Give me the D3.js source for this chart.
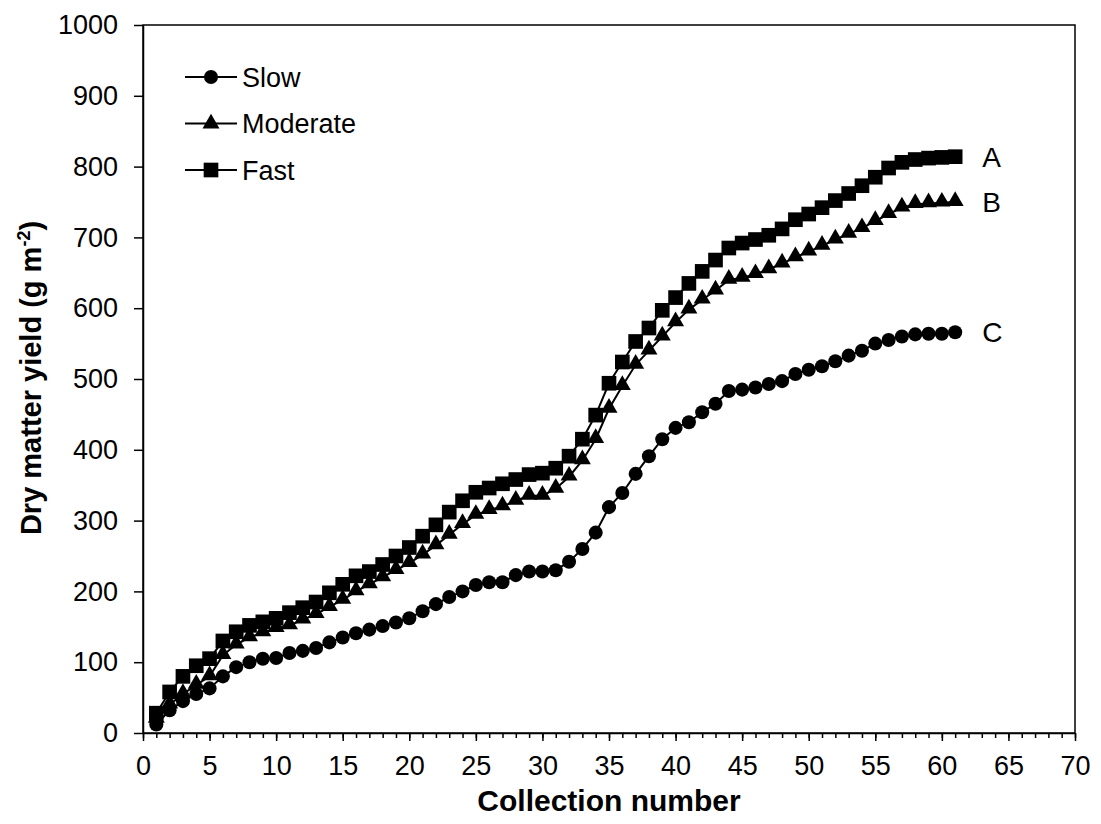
<!DOCTYPE html>
<html>
<head>
<meta charset="utf-8">
<script src="https://cdn.jsdelivr.net/npm/d3@7"></script>
<style>
  body { margin: 0; background: #fff; }
  text { font-family: "Liberation Sans", Arial, sans-serif; fill: #000; }
</style>
</head>
<body>
<svg id="chart" width="1101" height="824"></svg>
<script>
// collection numbers 1..61
let collection = d3.range(1, 62);

let slow = [12, 32, 45, 55, 63, 80, 93, 100, 105, 106,
  113, 116, 120, 128, 135, 141, 146, 151, 156, 162,
  172, 182, 192, 200, 209, 213, 213, 223, 228, 228,
  230, 242, 260, 283, 319, 339, 366, 391, 415, 431,
  439, 453, 465, 483, 485, 488, 493, 497, 507, 513,
  518, 525, 533, 540, 550, 555, 560, 563, 564, 564, 566];

let moderate = [20, 40, 55, 68, 80, 110, 125, 135, 142, 148,
  152, 160, 168, 178, 188, 200, 210, 220, 230, 240,
  252, 265, 280, 295, 308, 315, 320, 328, 335, 335,
  345, 362, 385, 415, 458, 490, 520, 540, 560, 580,
  598, 612, 625, 640, 643, 648, 655, 663, 672, 680,
  688, 697, 705, 713, 723, 733, 742, 747, 748, 749, 750];

let fast = [28, 58, 80, 95, 105, 130, 143, 152, 157, 162,
  170, 177, 185, 198, 210, 222, 228, 238, 250, 262,
  278, 294, 312, 328, 340, 346, 352, 358, 365, 367,
  374, 391, 415, 449, 494, 524, 553, 572, 597, 615,
  635, 652, 668, 685, 692, 697, 703, 712, 725, 733,
  742, 752, 762, 773, 785, 798, 806, 810, 812, 813, 814];

let seriesNames = ["Slow", "Moderate", "Fast"];
let endLabels = ["C", "B", "A"];
let xTicks = d3.range(0, 71, 5);
let yTicks = d3.range(0, 1001, 100);

// marges
let margin = {top: 25, right: 26, bottom: 91, left: 143};
let width = 1101 - margin.left - margin.right;
let height = 824 - margin.top - margin.bottom;

let svg = d3.select("#chart");
let g = svg.append("g")
  .attr("transform", `translate(${margin.left},${margin.top})`);

let x = d3.scaleLinear().domain([0, 70]).range([0, width]);
let y = d3.scaleLinear().domain([0, 1000]).range([height, 0]);

// cadre
g.append("rect")
  .attr("width", width).attr("height", height)
  .attr("fill", "none").attr("stroke", "#000").attr("stroke-width", 1.5);

// axe x : ticks mineurs puis majeurs
let xMinor = g.append("g")
  .attr("transform", `translate(0,${height})`)
  .call(d3.axisBottom(x).tickValues(d3.range(0, 71, 1)).tickSize(5).tickFormat(""));
xMinor.select(".domain").remove();

let xAxis = g.append("g")
  .attr("transform", `translate(0,${height})`)
  .call(d3.axisBottom(x).tickValues(xTicks).tickSize(8).tickSizeOuter(0).tickPadding(12));

let yAxis = g.append("g")
  .call(d3.axisLeft(y).tickValues(yTicks).tickFormat(d3.format("d"))
    .tickSize(9).tickSizeOuter(0).tickPadding(16));

[xMinor, xAxis, yAxis].forEach(function(a) {
  a.selectAll("line").attr("stroke-width", 1.5);
  a.selectAll(".domain").attr("stroke-width", 1.5);
  a.selectAll("text").style("font-size", "27px").attr("font-family", null);
});
xAxis.selectAll("text").attr("dy", "0.8em");

// titres
svg.append("text")
  .attr("x", margin.left + x(35))
  .attr("y", 811)
  .attr("text-anchor", "middle")
  .style("font-size", "30px").style("font-weight", "bold")
  .text("Collection number");

let yTitle = svg.append("text")
  .attr("transform", `translate(41,378) rotate(-90)`)
  .attr("text-anchor", "middle")
  .style("font-size", "29px").style("font-weight", "bold");
yTitle.append("tspan").text("Dry matter yield (g m");
yTitle.append("tspan").attr("dy", "-11").style("font-size", "18px").text("-2");
yTitle.append("tspan").attr("dy", "11").text(")");

// symboles
let symbols = [d3.symbolCircle, d3.symbolTriangle, d3.symbolSquare];
let symSizes = [155, 125, 215];
let allSeries = [slow, moderate, fast];

let line = d3.line()
  .x(function(d, i) { return x(collection[i]); })
  .y(function(d) { return y(d); });

allSeries.forEach(function(values, s) {
  g.append("path")
    .datum(values)
    .attr("d", line)
    .attr("fill", "none")
    .attr("stroke", "#000")
    .attr("stroke-width", 2);

  g.selectAll(".pt" + s)
    .data(values)
    .enter().append("path")
      .attr("class", "pt" + s)
      .attr("d", d3.symbol().type(symbols[s]).size(symSizes[s]))
      .attr("transform", function(d, i) {
        let dy = s === 1 ? -1 : 0;
        return `translate(${x(collection[i])},${y(d) + dy})`;
      })
      .attr("fill", "#000");

  // lettres de fin
  g.append("text")
    .attr("x", x(collection[collection.length - 1]) + 27)
    .attr("y", y(values[values.length - 1]))
    .attr("dy", "0.36em")
    .style("font-size", "28px")
    .text(endLabels[s]);
});

// légende
let legend = g.append("g").attr("transform", "translate(42,52)");
seriesNames.forEach(function(name, s) {
  let row = legend.append("g").attr("transform", `translate(0,${s * 46.5})`);
  row.append("line").attr("x1", 0).attr("x2", 52)
    .attr("stroke", "#000").attr("stroke-width", 2);
  row.append("path")
    .attr("d", d3.symbol().type(symbols[s]).size(symSizes[s]))
    .attr("transform", "translate(26,0)")
    .attr("fill", "#000");
  row.append("text")
    .attr("x", 57).attr("dy", "0.36em")
    .style("font-size", "27px")
    .text(name);
});
</script>
</body>
</html>
